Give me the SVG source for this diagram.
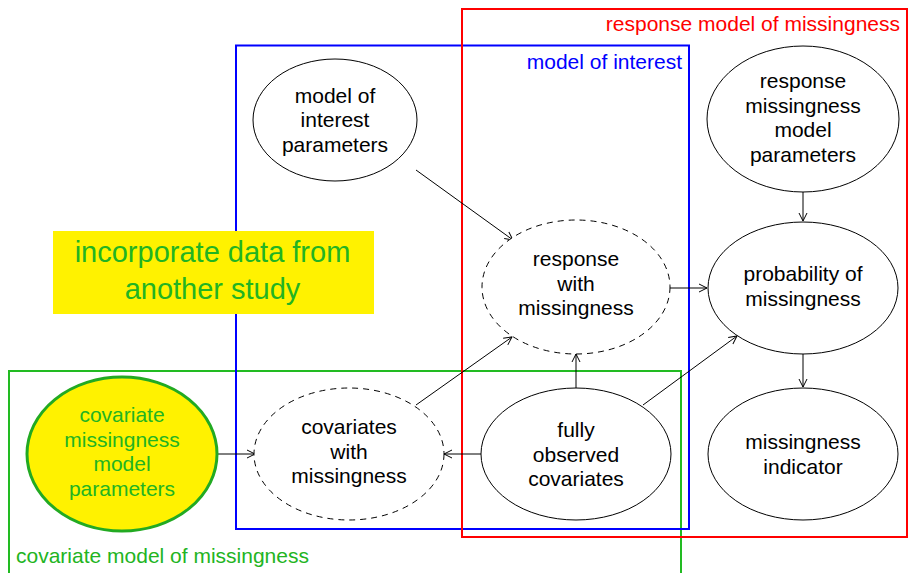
<svg xmlns="http://www.w3.org/2000/svg" width="909" height="573" viewBox="0 0 909 573">
<defs>
<marker id="arr" markerUnits="userSpaceOnUse" markerWidth="12" markerHeight="12" refX="9" refY="5" orient="auto">
<path d="M1,1 L9,5 L1,9" fill="none" stroke="#000" stroke-width="1"/>
</marker>
<style>
.t{font-family:"Liberation Sans",Arial,sans-serif;font-size:21px;text-anchor:middle;fill:#000}
.g{fill:#22b422}
.n{fill:#fff;stroke:#000;stroke-width:1}
.d{fill:#fff;stroke:#000;stroke-width:1;stroke-dasharray:6,5}
.c{fill:none;stroke:#000;stroke-width:1;marker-end:url(#arr)}
</style>
</defs>
<rect width="909" height="573" fill="#fff"/>
<g id="frames">
<rect x="9" y="371" width="672" height="220" fill="none" stroke="#22bb22" stroke-width="2"/>
<rect x="236" y="45.5" width="453" height="483.5" fill="none" stroke="#0000ff" stroke-width="2"/>
<rect x="462" y="9" width="445" height="528" fill="none" stroke="#ff0000" stroke-width="2"/>
<text class="t" style="fill:#ff0000;text-anchor:end" x="900" y="31">response model of missingness</text>
<text class="t" style="fill:#0000ff;text-anchor:end" x="682" y="69">model of interest</text>
<text class="t g" style="text-anchor:start" x="16" y="563">covariate model of missingness</text>
</g>
<g id="yellow-note">
<rect x="53" y="231" width="321" height="83" fill="#fff200"/>
<text class="t g" style="font-size:29px" x="212.5" y="262">incorporate data from</text>
<text class="t g" style="font-size:29px" x="212.5" y="299">another study</text>
</g>
<g id="connectors">
<line class="c" x1="416" y1="170" x2="513" y2="240"/>
<line class="c" x1="670" y1="288" x2="707" y2="288"/>
<line class="c" x1="803" y1="192" x2="803" y2="221"/>
<line class="c" x1="803" y1="354" x2="803" y2="387"/>
<line class="c" x1="416" y1="405" x2="512" y2="337"/>
<line class="c" x1="576" y1="388" x2="576" y2="354"/>
<line class="c" x1="643" y1="405" x2="737" y2="336"/>
<line class="c" x1="481" y1="454" x2="444" y2="454"/>
<line class="c" x1="218" y1="454" x2="255" y2="454"/>
</g>
<g id="model-of-interest-parameters">
<ellipse class="n" cx="335" cy="120" rx="82" ry="61"/>
<text class="t" x="335" y="102.5">model of</text>
<text class="t" x="335" y="127">interest</text>
<text class="t" x="335" y="151.5">parameters</text>
</g>
<g id="response-missingness-model-parameters">
<ellipse class="n" cx="803" cy="119" rx="96" ry="73"/>
<text class="t" x="803" y="88">response</text>
<text class="t" x="803" y="112.5">missingness</text>
<text class="t" x="803" y="137">model</text>
<text class="t" x="803" y="161.5">parameters</text>
</g>
<g id="response-with-missingness">
<ellipse class="d" cx="576" cy="287" rx="94" ry="67"/>
<text class="t" x="576" y="266">response</text>
<text class="t" x="576" y="290.5">with</text>
<text class="t" x="576" y="315">missingness</text>
</g>
<g id="probability-of-missingness">
<ellipse class="n" cx="803" cy="288" rx="95" ry="66"/>
<text class="t" x="803" y="281">probability of</text>
<text class="t" x="803" y="305.5">missingness</text>
</g>
<g id="covariates-with-missingness">
<ellipse class="d" cx="349" cy="454" rx="95" ry="66"/>
<text class="t" x="349" y="434">covariates</text>
<text class="t" x="349" y="458.5">with</text>
<text class="t" x="349" y="483">missingness</text>
</g>
<g id="fully-observed-covariates">
<ellipse class="n" cx="576" cy="454" rx="95" ry="66"/>
<text class="t" x="576" y="437">fully</text>
<text class="t" x="576" y="461.5">observed</text>
<text class="t" x="576" y="486">covariates</text>
</g>
<g id="missingness-indicator">
<ellipse class="n" cx="803" cy="454" rx="95" ry="66"/>
<text class="t" x="803" y="449">missingness</text>
<text class="t" x="803" y="473.5">indicator</text>
</g>
<g id="covariate-missingness-model-parameters">
<ellipse cx="122" cy="454" rx="95" ry="77" fill="#fff200" stroke="#22aa22" stroke-width="3"/>
<text class="t g" x="122" y="422">covariate</text>
<text class="t g" x="122" y="446.5">missingness</text>
<text class="t g" x="122" y="471">model</text>
<text class="t g" x="122" y="495.5">parameters</text>
</g>
</svg>
